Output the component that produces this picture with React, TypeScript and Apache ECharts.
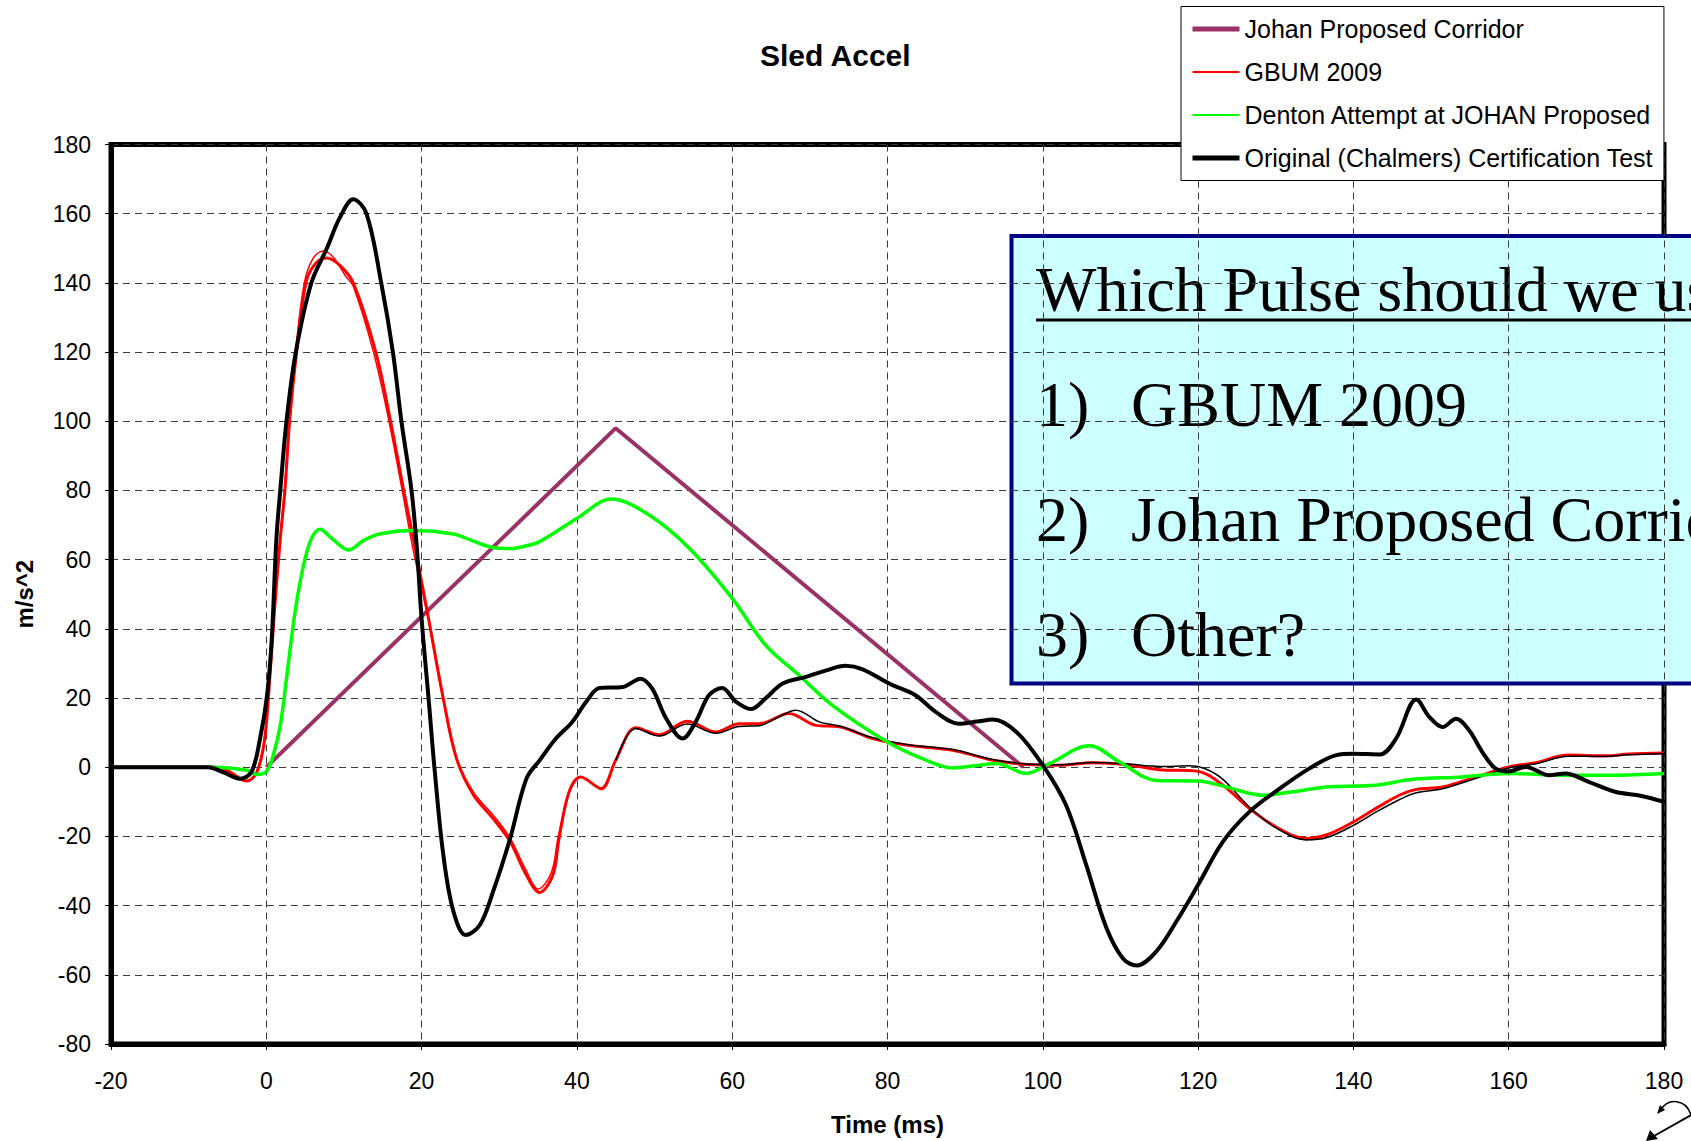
import React, { useEffect, useRef } from "react";
import * as echarts from "echarts";

const FONT = '"Liberation Sans", Arial, Helvetica, sans-serif';
const SERIF = '"Liberation Serif", "Times New Roman", serif';

const xTicks = { min: -20, max: 180, interval: 20 };
const yTicks = { min: -80, max: 180, interval: 20 };

const seriesNames = [
  "Johan Proposed Corridor",
  "GBUM 2009",
  "Denton Attempt at JOHAN Proposed",
  "Original (Chalmers) Certification Test",
];

const johanCorridor = [
  [0, 0], [45, 98], [97.5, 0],
];

const gbum2009 = [
  [-20, 0], [-10, 0], [-7, 0], [-5, -1], [-2.5, -4.0], [-1.2, -1.3], [-0.2, 8.3],
  [0.5, 27.5], [1.1, 46.7], [1.8, 66], [2.4, 80], [3.0, 100], [3.9, 120], [5.1, 140],
  [6.3, 145.5], [7.8, 147.2], [9.5, 145], [11.2, 140], [14.1, 120], [16.0, 100],
  [17.7, 80], [19.2, 63], [20.9, 42.9], [22.8, 19.8], [24.5, 2.5], [26.7, -8.1],
  [29.2, -14.8], [31.4, -21.5], [33.5, -31.2], [35.2, -36.2], [36.9, -31.2],
  [37.7, -20.6], [39.0, -7.1], [40.5, -2.8], [43.1, -6.2], [45.0, 2.0], [47.6, 11.4],
  [50.6, 9.4], [54.2, 13.3], [57.9, 10.2], [60.9, 12.6], [63.5, 12.6], [67.3, 15.5],
  [70.8, 12.1], [73.8, 11.7], [78.1, 8.3], [82.4, 6.4], [88.4, 4.9], [91.8, 3.0],
  [93.6, 2.0], [97.9, 0.8], [102.1, 0.6], [106.4, 1.3], [110.7, 0.8], [115, -0.7],
  [120, -1.2], [123.2, -5.2], [126.6, -11.9], [130, -17.2], [133.9, -20.6],
  [136.5, -19.6], [140, -15.8], [142.9, -11.9], [145.9, -8.1], [148.1, -6.4],
  [151.5, -5.7], [156.2, -2.5], [160, 0.1], [163.5, 1.3], [167.7, 3.5], [172.4, 3.3],
  [175.4, 3.8], [180, 4.1],
];

const gbum2009Trace2 = [
  [-5, -1], [-2.5, -3.8], [-1.2, -1.0], [-0.2, 9], [0.5, 29], [1.1, 48], [1.8, 67],
  [2.4, 82], [3.0, 102], [3.8, 121], [4.9, 140], [6.0, 147], [7.3, 149.2], [8.6, 147.5],
  [10.2, 142], [11.2, 139], [13.8, 120], [15.8, 100], [17.5, 80], [18.9, 63],
  [20.8, 43.5], [22.7, 20.5], [24.4, 3.2], [26.7, -7.3], [29.2, -13.8], [31.4, -20.5],
  [33.5, -30], [35.0, -35.2], [36.7, -30.5], [37.6, -20], [39, -6.8],
];

const gbumBlackTrace = [
  [45, 2.0], [47.6, 11.2], [50.6, 9.0], [54.2, 12.5], [57.9, 9.8], [60.9, 11.8],
  [63.5, 12.0], [65.5, 14.0], [68.2, 16.5], [71.2, 13.1], [73.8, 11.9], [78.1, 8.5],
  [82.4, 6.6], [88.4, 5.1], [91.8, 3.2], [93.6, 2.2], [97.9, 0.9], [102.1, 0.7],
  [106.4, 1.4], [110.7, 1.0], [115, 0.2], [119, 0.4], [121, -0.5], [123.2, -3.5],
  [126.6, -11.5], [130, -17.5], [133.9, -21.0], [136.5, -20.4], [140, -16.8],
  [142.9, -13.0], [145.9, -9.4], [148.1, -7.4], [151.5, -6.2], [156.2, -2.9],
  [160, -0.2], [163.5, 1.0], [167.7, 3.2], [172.4, 3.1], [175.4, 3.6], [180, 3.9],
];

const dentonAttempt = [
  [-20, 0], [-10, 0], [-6.8, 0], [-2.5, -0.9], [-1.2, -2.1], [0, -1.3], [0.9, 3.5],
  [1.8, 12.1], [2.6, 25.6], [3.7, 44.8], [4.8, 58.4], [5.8, 66], [6.9, 68.8],
  [8.5, 66], [10.6, 62.8], [12.5, 65.5], [14.6, 67.4], [18.9, 68.4], [24.1, 67.4],
  [26.5, 65.5], [29.2, 63.5], [31.5, 63.2], [33.5, 64], [35.2, 65.2], [40, 71.9],
  [44.4, 77.5], [49.3, 72.9], [54.5, 63.2], [60, 48.8], [64.3, 35.3], [68.6, 26.6],
  [72.9, 17.9], [80, 7.3], [84.5, 2.5], [88.4, -0.2], [91.8, 0.6], [94, 1.1],
  [97.9, -1.8], [100.9, 1.1], [106, 6.2], [109.9, 1.5], [114.6, -3.8], [120, -4.0],
  [123.6, -5.7], [128.3, -8.1], [132.2, -7.1], [136.5, -5.7], [142.9, -5.2],
  [147.6, -3.5], [154, -2.8], [160, -1.8], [166.9, -2.3], [173.3, -2.3], [180, -1.8],
];

const chalmersOriginal = [
  [-20, 0], [-10, 0], [-7.5, 0], [-5.5, -1.5], [-3.4, -3.3], [-1.9, -1.3], [-0.8, 8.3],
  [0.1, 20.8], [0.7, 37], [1.3, 66], [1.8, 80], [2.6, 100], [3.8, 120], [5.8, 140],
  [7.8, 150], [9.5, 159], [11.2, 164.2], [12.9, 160], [14.8, 140], [16.3, 120],
  [17.4, 100], [18.7, 80], [19.4, 63], [20, 42.9], [20.9, 19.8], [21.7, -1.3],
  [22.8, -25.4], [24.1, -41.7], [25.7, -48.5], [27.5, -45.6], [29.2, -36],
  [31.4, -20.6], [33.5, -3.3], [35.2, 2.0], [37.3, 8.3], [39.4, 13.1], [41.2, 18.9],
  [42.9, 22.9], [45.9, 23.2], [48.2, 25.6], [49.7, 22.7], [51.5, 14.1], [53.6, 8.3],
  [55.3, 13.1], [57.0, 20.8], [58.7, 22.9], [60.5, 18.9], [62.4, 16.8], [64.3, 19.9],
  [66.5, 24.2], [69.5, 26.1], [72.1, 28.0], [74.6, 29.3], [76.8, 28.3], [80.2, 24.2],
  [83.6, 20.8], [86.2, 16.0], [89.2, 12.6], [91.5, 13.2], [93.6, 13.8], [96.6, 10.2],
  [100, 0.6], [103, -11], [105.6, -28.3], [108.2, -46.5], [110.3, -55.2],
  [112.1, -57.3], [114.6, -53.3], [117.2, -44.6], [120, -34.0], [123.2, -21.5],
  [126.6, -12.9], [130.5, -6.2], [134.3, -0.4], [137.8, 3.5], [140, 3.9], [143.4, 3.7],
  [145.5, 8.3], [148.1, 19.6], [149.8, 14.5], [151.5, 11.6], [153.2, 14.0],
  [154.9, 10.7], [156.6, 4.4], [158.3, -0.4], [160, -1.2], [162.2, 0.1], [165.2, -2.3],
  [167.3, -1.8], [170.3, -4.2], [173.7, -7.1], [177.1, -8.3], [180, -10],
];

const boxTitle = "Which Pulse should we use?";
const boxItems = [
  ["1)", "GBUM 2009"],
  ["2)", "Johan Proposed Corridor"],
  ["3)", "Other?"],
];

const App = () => {
  const ref = useRef<HTMLDivElement>(null);

  useEffect(() => {
    document.body.style.margin = "0";
    if (!ref.current) return;
    const chart = echarts.init(ref.current, undefined, { renderer: "svg" });

    const lineSeries = (name: string, data: number[][], color: string, width: number, smooth: number | boolean = 0.35) => ({
      type: "line",
      name,
      data,
      symbol: "none",
      smooth,
      lineStyle: { color, width },
      itemStyle: { color },
      emphasis: { disabled: true },
    });

    const axisCommon = {
      type: "value",
      axisLine: { show: true, onZero: false, lineStyle: { color: "#000", width: 5 } },
      axisTick: { show: true, length: 6, lineStyle: { color: "#000", width: 1 } },
      splitLine: { show: true, lineStyle: { color: "#3a3a3a", width: 1, type: [7, 5] } },
      nameTextStyle: { fontSize: 24, fontWeight: "bold", fontFamily: FONT, color: "#000" },
    };

    const serifText = (text: string, x: number, y: number) => ({
      type: "text",
      x,
      y,
      style: {
        text,
        font: `64px ${SERIF}`,
        fill: "#000",
        verticalAlign: "middle",
        align: "left",
      },
    });

    const boxGraphics: any[] = [
      {
        type: "rect",
        shape: { x: 1011.5, y: 236, width: 800, height: 447.5 },
        style: { fill: "#CCFFFF", stroke: "#000080", lineWidth: 4 },
      },
      serifText(boxTitle, 1036, 289),
      {
        type: "line",
        shape: { x1: 1036, y1: 320, x2: 1720, y2: 320 },
        style: { stroke: "#000", lineWidth: 3 },
      },
    ];
    boxItems.forEach((item, i) => {
      const y = 404 + i * 115;
      boxGraphics.push(serifText(item[0], 1036, y));
      boxGraphics.push(serifText(item[1], 1131, y));
    });

    const hiddenSymbol = { color: "rgba(0,0,0,0)", borderWidth: 0, opacity: 0 };

    chart.setOption({
      animation: false,
      backgroundColor: "#fff",
      title: {
        text: "Sled Accel",
        left: 760,
        top: 40,
        padding: 0,
        textStyle: { fontSize: 30, fontWeight: "bold", fontFamily: FONT, color: "#000" },
      },
      legend: {
        orient: "vertical",
        left: 1181,
        top: 6.5,
        padding: [10, 11, 10, 9],
        itemWidth: 47,
        itemHeight: 20,
        itemGap: 18,
        backgroundColor: "#fff",
        borderColor: "#000",
        borderWidth: 1,
        selectedMode: false,
        itemStyle: hiddenSymbol,
        textStyle: { fontSize: 25, fontFamily: FONT, color: "#000" },
        data: [
          { name: seriesNames[0], itemStyle: hiddenSymbol, lineStyle: { width: 5, color: "#993366", opacity: 1 } },
          { name: seriesNames[1], itemStyle: hiddenSymbol, lineStyle: { width: 2, color: "#FF0000", opacity: 1 } },
          { name: seriesNames[2], itemStyle: hiddenSymbol, lineStyle: { width: 2, color: "#00FF00", opacity: 1 } },
          { name: seriesNames[3], itemStyle: hiddenSymbol, lineStyle: { width: 5, color: "#000000", opacity: 1 } },
        ],
      },
      grid: {
        left: 111,
        right: 27,
        top: 144.5,
        bottom: 96,
        show: true,
        borderColor: "#000",
        borderWidth: 5,
        backgroundColor: "transparent",
      },
      xAxis: {
        ...axisCommon,
        min: xTicks.min,
        max: xTicks.max,
        interval: xTicks.interval,
        name: "Time (ms)",
        nameLocation: "middle",
        nameGap: 68,
        axisLabel: { fontSize: 23, margin: 25, color: "#000", fontFamily: FONT },
      },
      yAxis: {
        ...axisCommon,
        min: yTicks.min,
        max: yTicks.max,
        interval: yTicks.interval,
        name: "m/s^2",
        nameLocation: "middle",
        nameRotate: 90,
        nameGap: 75,
        axisLabel: { fontSize: 23, margin: 20, color: "#000", fontFamily: FONT },
      },
      series: [
        lineSeries(seriesNames[0], johanCorridor, "#993366", 4, false),
        lineSeries(seriesNames[1], gbum2009, "#FF0000", 3),
        lineSeries(seriesNames[1], gbum2009Trace2, "#FF0000", 1.5),
        lineSeries("GBUM 2009 (trace)", gbumBlackTrace, "#000000", 1.5),
        lineSeries(seriesNames[2], dentonAttempt, "#00FF00", 3.5),
        lineSeries(seriesNames[3], chalmersOriginal, "#000000", 4),
      ],
      graphic: [
        { type: "group", z: 100, children: boxGraphics },
        {
          type: "group",
          z: 100,
          children: [
            {
              type: "bezierCurve",
              shape: { x1: 1660, y1: 1111, cpx1: 1668, cpy1: 1097, cpx2: 1686, cpy2: 1099, x2: 1691, y2: 1115 },
              style: { stroke: "#000", lineWidth: 1.5, fill: "none" },
            },
            {
              type: "polygon",
              shape: { points: [[1657, 1114], [1660, 1105], [1665, 1110]] },
              style: { fill: "#000" },
            },
            {
              type: "line",
              shape: { x1: 1691, y1: 1115, x2: 1654, y2: 1136 },
              style: { stroke: "#000", lineWidth: 2 },
            },
            {
              type: "polygon",
              shape: { points: [[1646, 1141], [1650, 1130], [1658, 1139]] },
              style: { fill: "#000" },
            },
          ],
        },
      ],
    });

    return () => chart.dispose();
  }, []);

  return (
    <div
      ref={ref}
      style={{ position: "absolute", left: 0, top: 0, width: 1691, height: 1141 }}
    />
  );
};

export default App;
